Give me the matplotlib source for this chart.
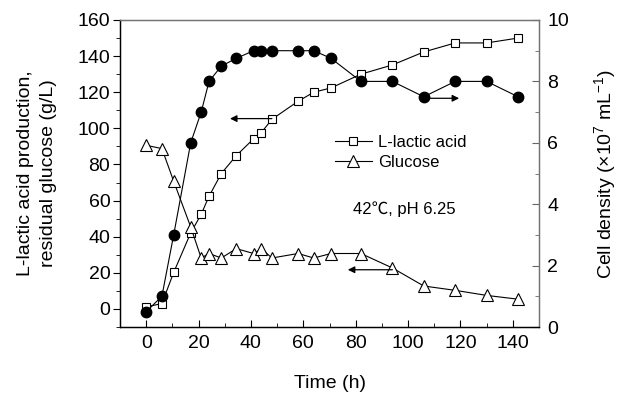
import matplotlib
matplotlib.use('Agg')
import matplotlib.pyplot as plt
from matplotlib.ticker import MultipleLocator

plt.rcParams['font.family'] = ['Liberation Sans', 'Noto Sans CJK SC', 'DejaVu Sans']
plt.rcParams['mathtext.fontset'] = 'custom'
plt.rcParams['mathtext.rm'] = 'Liberation Sans'

# time points (h)
time = [0, 6, 10.5, 17, 21, 24, 28.7, 34.4, 41, 44, 48, 58, 64, 70.6, 82, 94, 106, 118, 130, 142]
lactic = [1.1, 3.0, 20.2, 42.1, 52.4, 62.4, 75.0, 84.9, 94.2, 97.7, 105.0, 115.0, 120.0, 122.4,
          130.0, 135.1, 142.3, 147.3, 147.3, 150.0]
glucose = [90.6, 88.8, 70.7, 45.4, 28.2, 30.7, 28.2, 33.4, 30.7, 33.4, 28.2, 30.7, 28.2, 30.7,
           30.7, 22.7, 12.7, 10.3, 7.5, 5.4]
cells = [0.5, 1.0, 3.0, 6.0, 7.0, 8.0, 8.5, 8.75, 9.0, 9.0, 9.0, 9.0, 9.0, 8.75,
         8.0, 8.0, 7.5, 8.0, 8.0, 7.5]

fig = plt.figure(figsize=(6.19, 3.94), dpi=100)
ax = fig.add_axes([120/619, 1-327/394, 419/619, 307/394])
ax2 = ax.twinx()

lw = 0.8
ax.plot(time, lactic, color='k', lw=lw, marker='s', ms=6, mfc='white', mec='k', mew=0.8,
        label='L-lactic acid', zorder=3)
ax.plot(time, glucose, color='k', lw=lw, marker='^', ms=8, mfc='white', mec='k', mew=0.8,
        label='Glucose', zorder=3)
ax2.plot(time, cells, color='k', lw=lw, marker='o', ms=7.5, mfc='k', mec='k')

ax.set_xlim(-10, 150)
ax.set_ylim(-10, 160)
ax2.set_ylim(0, 10)

ax.xaxis.set_major_locator(MultipleLocator(20))
ax.xaxis.set_minor_locator(MultipleLocator(10))
ax.yaxis.set_major_locator(MultipleLocator(20))
ax.yaxis.set_minor_locator(MultipleLocator(10))
ax2.yaxis.set_major_locator(MultipleLocator(2))
ax2.yaxis.set_minor_locator(MultipleLocator(1))

ax.tick_params(axis='x', which='both', direction='in', top=False, labelsize=14, pad=6)
ax.tick_params(axis='x', which='major', length=5)
ax.tick_params(axis='x', which='minor', length=3)
ax.tick_params(axis='y', which='both', direction='out', labelsize=14, pad=2)
ax.tick_params(axis='y', which='major', length=5)
ax.tick_params(axis='y', which='minor', length=3)
ax2.tick_params(axis='y', which='both', direction='in', labelsize=14, pad=6, color='0.4')
ax2.tick_params(axis='y', which='major', length=5)
ax2.tick_params(axis='y', which='minor', length=3)

for a in (ax, ax2):
    a.spines['top'].set_color('0.45')
    a.spines['right'].set_color('0.45')
    for s in a.spines.values():
        s.set_linewidth(0.9)

ax.set_xlabel('Time (h)', fontsize=14, labelpad=16)
ax.set_ylabel('L-lactic acid production,\nresidual glucose (g/L)', fontsize=14, labelpad=15,
              linespacing=1.45)
ax2.set_ylabel(r'Cell density ($\times$10$^{7}$ mL$^{-1}$)', fontsize=14, labelpad=17)

ax.legend(loc='upper left', bbox_to_anchor=(0.513, 0.627), frameon=False, fontsize=12,
          handlelength=2.2, handletextpad=0.4, borderpad=0, borderaxespad=0, labelspacing=0.3)

ax.text(79, 55, '42℃, pH 6.25', fontsize=12, ha='left', va='center')

arrow = dict(arrowstyle='-|>', lw=0.9, color='k', mutation_scale=10, shrinkA=0, shrinkB=0)
ax.annotate('', xy=(32, 105.4), xytext=(48, 105.4), arrowprops=arrow)
ax.annotate('', xy=(77, 21.7), xytext=(94, 21.7), arrowprops=arrow)
ax2.annotate('', xy=(119.5, 7.45), xytext=(106, 7.45), arrowprops=arrow)

plt.savefig('out.png', dpi=100)
